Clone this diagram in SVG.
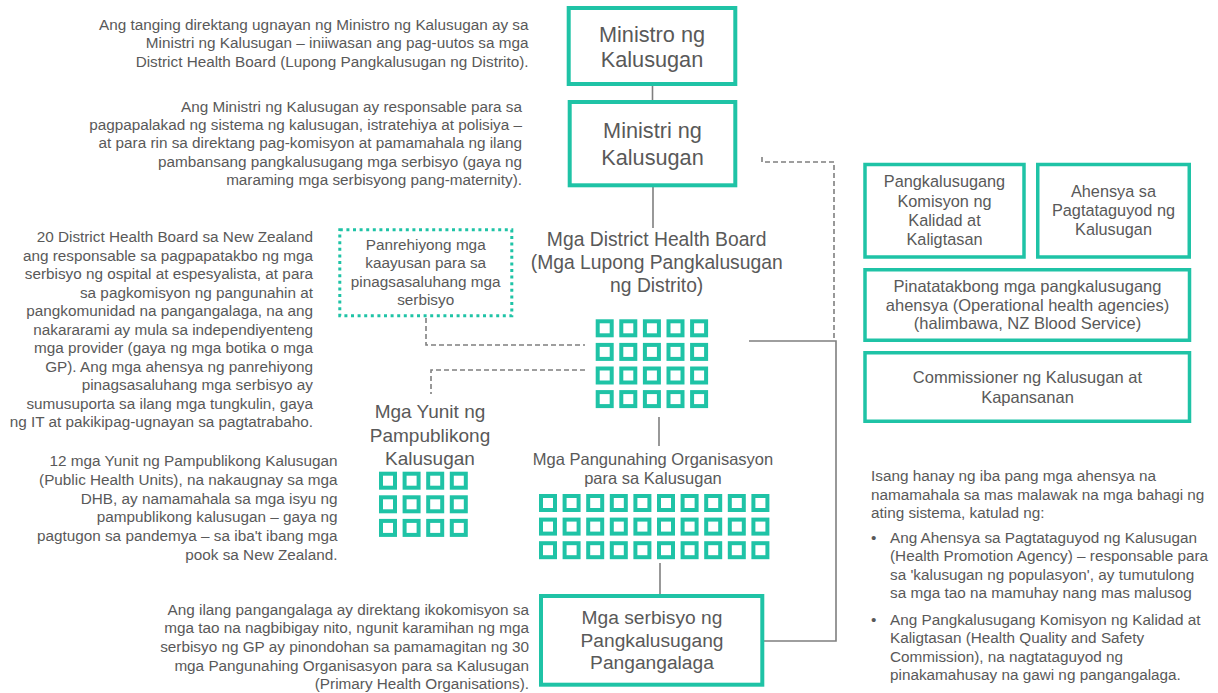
<svg xmlns="http://www.w3.org/2000/svg" xmlns:xlink="http://www.w3.org/1999/xlink" width="1218" height="693" viewBox="0 0 1218 693">
<style>
text{font-family:"Liberation Sans",Arial,sans-serif;fill:#595959}
.body{font-size:15.3px}
.end{text-anchor:end}
.mid{text-anchor:middle}
.box{fill:#fff;stroke:#1fc3a6;stroke-width:4}
.rbox{fill:#fff;stroke:#1fc3a6;stroke-width:3.5}
.dot{fill:none;stroke:#1fc3a6;stroke-width:3;stroke-dasharray:3 3.6}
.sq{fill:#fff;stroke:#1fc3a6;stroke-width:4}
.ln{fill:none;stroke:#7f7f7f;stroke-width:1.6}
.dash{fill:none;stroke:#7f7f7f;stroke-width:1.6;stroke-dasharray:5 3}
</style>
<defs>
<rect id="sq" class="sq" x="0" y="0" width="14" height="14"/>
</defs>

<g id="connectors">
<line class="ln" x1="652.5" y1="86" x2="652.5" y2="100"/>
<line class="ln" x1="653" y1="187" x2="653" y2="228"/>
<line class="ln" x1="659" y1="417" x2="659" y2="446"/>
<line class="ln" x1="660" y1="563" x2="660" y2="594"/>
<path class="ln" d="M749,341 H836 V641 H764"/>
<path class="dash" d="M762,157 V162 H834 V340"/>
<path class="dash" d="M426,318 V345 H585"/>
<path class="dash" d="M585,370 H431 V394"/>
</g>

<g id="note-ministro">
<text class="body end" x="528.5" y="30">Ang tanging direktang ugnayan ng Ministro ng Kalusugan ay sa</text>
<text class="body end" x="528.5" y="48.3">Ministri ng Kalusugan – iniiwasan ang pag-uutos sa mga</text>
<text class="body end" x="528.5" y="66.7">District Health Board (Lupong Pangkalusugan ng Distrito).</text>
</g>

<g id="note-ministri">
<text class="body end" x="522" y="111.7">Ang Ministri ng Kalusugan ay responsable para sa</text>
<text class="body end" x="522" y="130">pagpapalakad ng sistema ng kalusugan, istratehiya at polisiya –</text>
<text class="body end" x="522" y="148.3">at para rin sa direktang pag-komisyon at pamamahala ng ilang</text>
<text class="body end" x="522" y="166.7">pambansang pangkalusugang mga serbisyo (gaya ng</text>
<text class="body end" x="522" y="185">maraming mga serbisyong pang-maternity).</text>
</g>

<g id="note-dhb">
<text class="body end" x="313" y="242">20 District Health Board sa New Zealand</text>
<text class="body end" x="313" y="260.5">ang responsable sa pagpapatakbo ng mga</text>
<text class="body end" x="313" y="279">serbisyo ng ospital at espesyalista, at para</text>
<text class="body end" x="313" y="297.5">sa pagkomisyon ng pangunahin at</text>
<text class="body end" x="313" y="316">pangkomunidad na pangangalaga, na ang</text>
<text class="body end" x="313" y="334.5">nakararami ay mula sa independiyenteng</text>
<text class="body end" x="313" y="353">mga provider (gaya ng mga botika o mga</text>
<text class="body end" x="313" y="371.5">GP). Ang mga ahensya ng panrehiyong</text>
<text class="body end" x="313" y="390">pinagsasaluhang mga serbisyo ay</text>
<text class="body end" x="313" y="408.5">sumusuporta sa ilang mga tungkulin, gaya</text>
<text class="body end" x="313" y="427">ng IT at pakikipag-ugnayan sa pagtatrabaho.</text>
</g>

<g id="note-phu">
<text class="body end" x="337.5" y="466">12 mga Yunit ng Pampublikong Kalusugan</text>
<text class="body end" x="337.5" y="484.8">(Public Health Units), na nakaugnay sa mga</text>
<text class="body end" x="337.5" y="503.6">DHB, ay namamahala sa mga isyu ng</text>
<text class="body end" x="337.5" y="522.4">pampublikong kalusugan – gaya ng</text>
<text class="body end" x="337.5" y="541.2">pagtugon sa pandemya – sa iba't ibang mga</text>
<text class="body end" x="337.5" y="560">pook sa New Zealand.</text>
</g>

<g id="note-pho">
<text class="body end" x="529" y="614.5">Ang ilang pangangalaga ay direktang ikokomisyon sa</text>
<text class="body end" x="529" y="633.2">mga tao na nagbibigay nito, ngunit karamihan ng mga</text>
<text class="body end" x="529" y="651.9">serbisyo ng GP ay pinondohan sa pamamagitan ng 30</text>
<text class="body end" x="529" y="670.6">mga Pangunahing Organisasyon para sa Kalusugan</text>
<text class="body end" x="529" y="689.3">(Primary Health Organisations).</text>
</g>

<g id="node-ministro">
<rect class="box" x="568.7" y="8" width="166.6" height="76"/>
<text class="mid" x="652" y="41.5" font-size="21.7">Ministro ng</text>
<text class="mid" x="652" y="66.5" font-size="21.7">Kalusugan</text>
</g>

<g id="node-ministri">
<rect class="box" x="569.7" y="102" width="165.6" height="83.3"/>
<text class="mid" x="652.5" y="138.3" font-size="21.7">Ministri ng</text>
<text class="mid" x="652.5" y="165" font-size="21.7">Kalusugan</text>
</g>

<g id="node-regional">
<rect class="dot" x="339.8" y="229.8" width="172" height="86"/>
<text class="body mid" x="425.7" y="250">Panrehiyong mga</text>
<text class="body mid" x="425.7" y="268.3">kaayusan para sa</text>
<text class="body mid" x="425.7" y="286.6">pinagsasaluhang mga</text>
<text class="body mid" x="425.7" y="305">serbisyo</text>
</g>

<g id="node-dhb">
<text class="mid" x="656.7" y="246" font-size="19.3">Mga District Health Board</text>
<text class="mid" x="656.7" y="269" font-size="19.3">(Mga Lupong Pangkalusugan</text>
<text class="mid" x="656.7" y="292" font-size="19.3">ng Distrito)</text>
<g transform="translate(597.7,321.3)">
<use xlink:href="#sq" x="0" y="0"/><use xlink:href="#sq" x="23.6" y="0"/><use xlink:href="#sq" x="47.2" y="0"/><use xlink:href="#sq" x="70.8" y="0"/><use xlink:href="#sq" x="94.4" y="0"/>
<use xlink:href="#sq" x="0" y="23.6"/><use xlink:href="#sq" x="23.6" y="23.6"/><use xlink:href="#sq" x="47.2" y="23.6"/><use xlink:href="#sq" x="70.8" y="23.6"/><use xlink:href="#sq" x="94.4" y="23.6"/>
<use xlink:href="#sq" x="0" y="47.2"/><use xlink:href="#sq" x="23.6" y="47.2"/><use xlink:href="#sq" x="47.2" y="47.2"/><use xlink:href="#sq" x="70.8" y="47.2"/><use xlink:href="#sq" x="94.4" y="47.2"/>
<use xlink:href="#sq" x="0" y="70.8"/><use xlink:href="#sq" x="23.6" y="70.8"/><use xlink:href="#sq" x="47.2" y="70.8"/><use xlink:href="#sq" x="70.8" y="70.8"/><use xlink:href="#sq" x="94.4" y="70.8"/>
</g>
</g>

<g id="node-phu">
<text class="mid" x="430" y="418" font-size="19">Mga Yunit ng</text>
<text class="mid" x="430" y="441.5" font-size="19">Pampublikong</text>
<text class="mid" x="430" y="465" font-size="19">Kalusugan</text>
<g transform="translate(381,473.7)">
<use xlink:href="#sq" x="0" y="0"/><use xlink:href="#sq" x="23.6" y="0"/><use xlink:href="#sq" x="47.2" y="0"/><use xlink:href="#sq" x="70.8" y="0"/>
<use xlink:href="#sq" x="0" y="23.6"/><use xlink:href="#sq" x="23.6" y="23.6"/><use xlink:href="#sq" x="47.2" y="23.6"/><use xlink:href="#sq" x="70.8" y="23.6"/>
<use xlink:href="#sq" x="0" y="47.2"/><use xlink:href="#sq" x="23.6" y="47.2"/><use xlink:href="#sq" x="47.2" y="47.2"/><use xlink:href="#sq" x="70.8" y="47.2"/>
</g>
</g>

<g id="node-pho">
<text class="mid" x="653" y="465" font-size="16.5">Mga Pangunahing Organisasyon</text>
<text class="mid" x="653" y="484.3" font-size="16.5">para sa Kalusugan</text>
<g transform="translate(541,496)">
<use xlink:href="#sq" x="0" y="0"/><use xlink:href="#sq" x="23.6" y="0"/><use xlink:href="#sq" x="47.2" y="0"/><use xlink:href="#sq" x="70.8" y="0"/><use xlink:href="#sq" x="94.4" y="0"/><use xlink:href="#sq" x="118" y="0"/><use xlink:href="#sq" x="141.6" y="0"/><use xlink:href="#sq" x="165.2" y="0"/><use xlink:href="#sq" x="188.8" y="0"/><use xlink:href="#sq" x="212.4" y="0"/>
<use xlink:href="#sq" x="0" y="23.6"/><use xlink:href="#sq" x="23.6" y="23.6"/><use xlink:href="#sq" x="47.2" y="23.6"/><use xlink:href="#sq" x="70.8" y="23.6"/><use xlink:href="#sq" x="94.4" y="23.6"/><use xlink:href="#sq" x="118" y="23.6"/><use xlink:href="#sq" x="141.6" y="23.6"/><use xlink:href="#sq" x="165.2" y="23.6"/><use xlink:href="#sq" x="188.8" y="23.6"/><use xlink:href="#sq" x="212.4" y="23.6"/>
<use xlink:href="#sq" x="0" y="47.2"/><use xlink:href="#sq" x="23.6" y="47.2"/><use xlink:href="#sq" x="47.2" y="47.2"/><use xlink:href="#sq" x="70.8" y="47.2"/><use xlink:href="#sq" x="94.4" y="47.2"/><use xlink:href="#sq" x="118" y="47.2"/><use xlink:href="#sq" x="141.6" y="47.2"/><use xlink:href="#sq" x="165.2" y="47.2"/><use xlink:href="#sq" x="188.8" y="47.2"/><use xlink:href="#sq" x="212.4" y="47.2"/>
</g>
</g>

<g id="node-services">
<rect class="box" x="541" y="596" width="221.3" height="88.7"/>
<text class="mid" x="652" y="624.3" font-size="19.2">Mga serbisyo ng</text>
<text class="mid" x="652" y="646.8" font-size="19.2">Pangkalusugang</text>
<text class="mid" x="652" y="669.3" font-size="19.2">Pangangalaga</text>
</g>

<g id="node-hqsc">
<rect class="rbox" x="865" y="164.5" width="159" height="92.5"/>
<text class="mid" x="944.5" y="187.3" font-size="16.3">Pangkalusugang</text>
<text class="mid" x="944.5" y="206.6" font-size="16.3">Komisyon ng</text>
<text class="mid" x="944.5" y="225.9" font-size="16.3">Kalidad at</text>
<text class="mid" x="944.5" y="245.2" font-size="16.3">Kaligtasan</text>
</g>

<g id="node-hpa">
<rect class="rbox" x="1037.75" y="164.5" width="151.5" height="92.5"/>
<text class="mid" x="1113.5" y="196.7" font-size="16.3">Ahensya sa</text>
<text class="mid" x="1113.5" y="216" font-size="16.3">Pagtataguyod ng</text>
<text class="mid" x="1113.5" y="235.3" font-size="16.3">Kalusugan</text>
</g>

<g id="node-operational">
<rect class="rbox" x="865" y="269.75" width="324.5" height="70.5"/>
<text class="mid" x="1027.5" y="291.7" font-size="16.5">Pinatatakbong mga pangkalusugang</text>
<text class="mid" x="1027.5" y="310.5" font-size="16.5">ahensya (Operational health agencies)</text>
<text class="mid" x="1027.5" y="329.3" font-size="16.5">(halimbawa, NZ Blood Service)</text>
</g>

<g id="node-commissioner">
<rect class="rbox" x="865" y="352.75" width="324.5" height="68.5"/>
<text class="mid" x="1027.5" y="383.3" font-size="16.5">Commissioner ng Kalusugan at</text>
<text class="mid" x="1027.5" y="402.5" font-size="16.5">Kapansanan</text>
</g>

<g id="note-agencies">
<text class="body" x="871" y="481">Isang hanay ng iba pang mga ahensya na</text>
<text class="body" x="871" y="499.5">namamahala sa mas malawak na mga bahagi ng</text>
<text class="body" x="871" y="518">ating sistema, katulad ng:</text>
<text class="body" x="871" y="542.5">•</text>
<text class="body" x="890" y="542.5">Ang Ahensya sa Pagtataguyod ng Kalusugan</text>
<text class="body" x="890" y="561">(Health Promotion Agency) – responsable para</text>
<text class="body" x="890" y="579.5">sa 'kalusugan ng populasyon', ay tumutulong</text>
<text class="body" x="890" y="598">sa mga tao na mamuhay nang mas malusog</text>
<text class="body" x="871" y="624.5">•</text>
<text class="body" x="890" y="624.5">Ang Pangkalusugang Komisyon ng Kalidad at</text>
<text class="body" x="890" y="643">Kaligtasan (Health Quality and Safety</text>
<text class="body" x="890" y="661.5">Commission), na nagtataguyod ng</text>
<text class="body" x="890" y="680">pinakamahusay na gawi ng pangangalaga.</text>
</g>
</svg>
